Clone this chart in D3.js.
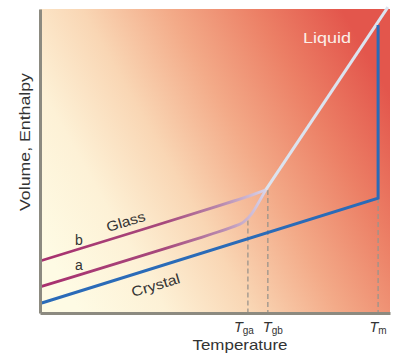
<!DOCTYPE html>
<html>
<head>
<meta charset="utf-8">
<script src="https://cdn.jsdelivr.net/npm/d3@7"></script>
<style>
  html, body { margin: 0; padding: 0; background: #fff; }
  svg { display: block; font-family: "Liberation Sans", Arial, sans-serif; }
</style>
</head>
<body>
<svg id="chart" width="396" height="356"></svg>
<script>
// Schematic volume/enthalpy vs temperature curves (arbitrary units, 0-100)
const Tm = 96.6;      // melting temperature
const TgA = 59.4;     // glass transition, slower cooling (a)
const TgB = 65.1;     // glass transition, faster cooling (b)

const crystal = [[0.5, 3.3], [96.6, 37.8]];
const melting = [[96.6, 37.8], [96.6, 94.7]];
const liquid = [[64.5, 40.5], [99.4, 100.6]];
const glassB = [[0, 17.1], [57, 37.3], [61.5, 39.2], [64.5, 40.5]];
const glassA = [[0, 8.6], [55, 27.9], [58.3, 29.7], [60.6, 32.6], [62.6, 36.6], [64.5, 40.5]];

const tickLabels = [
  { t: TgA, main: "T", sub: "ga" },
  { t: TgB, main: "T", sub: "gb" },
  { t: Tm, main: "T", sub: "m" }
];

const svg = d3.select("#chart");
const plotLeft = 40, plotRight = 390, plotTop = 9, plotBottom = 313;

const x = d3.scaleLinear().domain([0, 100]).range([plotLeft, plotRight]);
const y = d3.scaleLinear().domain([0, 100]).range([plotBottom, plotTop]);

const defs = svg.append("defs");

// warm background: cream at lower left, red toward the upper right
const bg = defs.append("linearGradient").attr("id", "bg")
  .attr("gradientUnits", "userSpaceOnUse")
  .attr("x1", 62).attr("y1", 280).attr("x2", 390).attr("y2", 95);
[[0, "#fefbe4"], [0.2, "#fdf1d6"], [0.4, "#f9d6b4"], [0.6, "#f3aa88"], [0.8, "#ec8066"], [1, "#e3564c"]]
  .forEach(([o, c]) => bg.append("stop").attr("offset", o).attr("stop-color", c));

// glass lines fade from magenta to pale lavender near the transition
const gg = defs.append("linearGradient").attr("id", "glassGrad")
  .attr("gradientUnits", "userSpaceOnUse")
  .attr("x1", x(0)).attr("y1", 0).attr("x2", x(64.5)).attr("y2", 0);
[[0, "#a8306e"], [0.55, "#a6487c"], [0.8, "#b888ad"], [1, "#d8d4ea"]]
  .forEach(([o, c]) => gg.append("stop").attr("offset", o).attr("stop-color", c));

svg.append("rect")
  .attr("x", plotLeft).attr("y", plotTop)
  .attr("width", plotRight - plotLeft).attr("height", plotBottom - plotTop)
  .attr("fill", "url(#bg)");

const line = d3.line().x(d => x(d[0])).y(d => y(d[1]));
const smooth = d3.line().x(d => x(d[0])).y(d => y(d[1])).curve(d3.curveBasis);

// dashed guides down to the temperature axis
const guides = [
  { t: TgA, v: 30.4 },
  { t: TgB, v: 40.5 },
  { t: Tm, v: 37.8 }
];
svg.append("g").selectAll("line").data(guides).join("line")
  .attr("x1", d => x(d.t)).attr("x2", d => x(d.t))
  .attr("y1", d => y(d.v)).attr("y2", plotBottom)
  .attr("stroke", "#9a948c").attr("stroke-width", 1.3)
  .attr("stroke-dasharray", "5,3");

// glass curves
svg.append("path").datum(glassB).attr("d", smooth)
  .attr("fill", "none").attr("stroke", "url(#glassGrad)").attr("stroke-width", 2.8);
svg.append("path").datum(glassA).attr("d", smooth)
  .attr("fill", "none").attr("stroke", "url(#glassGrad)").attr("stroke-width", 2.8);

// liquid line
svg.append("path").datum(liquid).attr("d", line)
  .attr("fill", "none").attr("stroke", "#dce3ef").attr("stroke-width", 3);

// crystal and melting
svg.append("path").datum(crystal.concat(melting.slice(1))).attr("d", line)
  .attr("fill", "none").attr("stroke", "#2a6bb8").attr("stroke-width", 3)
  .attr("stroke-linejoin", "miter");

// axes
const xAxis = d3.axisBottom(x).tickValues([]).tickSize(0).tickSizeOuter(0);
const yAxis = d3.axisLeft(y).tickValues([]).tickSize(0).tickSizeOuter(0);
svg.append("g").attr("transform", `translate(0,${plotBottom})`).call(xAxis)
  .select(".domain").attr("stroke", "#8c8a80").attr("stroke-width", 3);
svg.append("g").attr("transform", `translate(${plotLeft},0)`).call(yAxis)
  .select(".domain").attr("stroke", "#8c8a80").attr("stroke-width", 3);

// tick labels with subscripts; the two close Tg labels are nudged apart
const nudge = [-4, 5, 0];
const tl = svg.append("g").selectAll("text").data(tickLabels).join("text")
  .attr("x", (d, i) => x(d.t) + nudge[i]).attr("y", 332)
  .attr("text-anchor", "middle")
  .attr("fill", "#333").attr("font-size", 14.5);
tl.append("tspan").attr("font-style", "italic").text(d => d.main);
tl.append("tspan").attr("font-size", 10).attr("dy", 2).text(d => d.sub);

svg.append("text").attr("x", 240).attr("y", 350)
  .attr("text-anchor", "middle").attr("font-size", 14.5).attr("fill", "#333")
  .attr("textLength", 95).attr("lengthAdjust", "spacingAndGlyphs")
  .text("Temperature");

svg.append("text")
  .attr("transform", "translate(30,142) rotate(-90)")
  .attr("text-anchor", "middle").attr("font-size", 14.5).attr("fill", "#333")
  .attr("textLength", 138).attr("lengthAdjust", "spacingAndGlyphs")
  .text("Volume, Enthalpy");

// curve labels
svg.append("text").attr("x", 303).attr("y", 43)
  .attr("font-size", 14).attr("fill", "#fbeee8")
  .attr("textLength", 48).attr("lengthAdjust", "spacingAndGlyphs")
  .text("Liquid");

const ang = -16.5;
svg.append("text").attr("transform", `translate(108,232) rotate(${ang})`)
  .attr("font-size", 14).attr("fill", "#333")
  .attr("textLength", 40).attr("lengthAdjust", "spacingAndGlyphs")
  .text("Glass");
svg.append("text").attr("transform", `translate(133,297) rotate(${ang})`)
  .attr("font-size", 14).attr("fill", "#333")
  .attr("textLength", 50).attr("lengthAdjust", "spacingAndGlyphs")
  .text("Crystal");
svg.append("text").attr("x", 75).attr("y", 245)
  .attr("font-size", 14).attr("fill", "#333").text("b");
svg.append("text").attr("x", 75).attr("y", 270)
  .attr("font-size", 14).attr("fill", "#333").text("a");
</script>
</body>
</html>
